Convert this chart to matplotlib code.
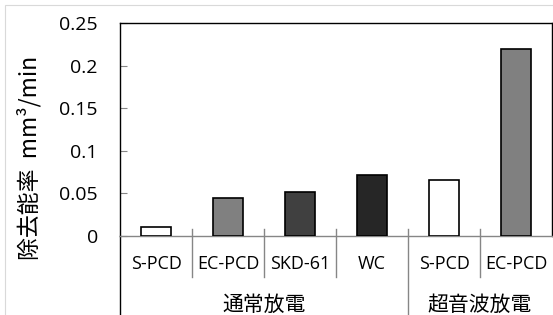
import matplotlib
matplotlib.use("Agg")
import matplotlib.pyplot as plt
from matplotlib.patches import Rectangle
import matplotlib.transforms as mtransforms

categories = ["S-PCD", "EC-PCD", "SKD-61", "WC", "S-PCD", "EC-PCD"]
values = [0.011, 0.045, 0.052, 0.072, 0.066, 0.220]
colors = ["#ffffff", "#808080", "#404040", "#262626", "#ffffff", "#808080"]
groups = ["通常放電", "超音波放電"]
group_sizes = [4, 2]
yticks = [0, 0.05, 0.1, 0.15, 0.2, 0.25]
yticklabels = ["0", "0.05", "0.1", "0.15", "0.2", "0.25"]
ylabel = "除去能率  mm³/min"

W, H = 553, 315
fig = plt.figure(figsize=(W / 100, H / 100), dpi=100)

# outer chart border (light gray)
fig.patches.append(Rectangle((5 / W, -0.1), 1.2, (H - 5) / H + 0.1, transform=fig.transFigure,
                             fill=False, edgecolor="#d9d9d9", linewidth=0.8))

left, right, top, zero = 120, 552, 23, 236
ax = fig.add_axes([left / W, (H - zero) / H, (right - left) / W, (zero - top) / H])
x = list(range(len(categories)))
ax.bar(x, values, width=0.41, color=colors, edgecolor="black", linewidth=1.2, zorder=3)
ax.set_xlim(-0.5, len(categories) - 0.5)
ax.set_ylim(0, 0.25)
ax.set_yticks(yticks)
ax.set_yticklabels(yticklabels, fontfamily="Open Sans", fontsize=14)
ax.tick_params(axis="y", direction="in", length=5, width=0.8, color="#868686", pad=16)
ax.set_xticks([])
for s in ["left", "top", "right"]:
    ax.spines[s].set_color("black")
    ax.spines[s].set_linewidth(1.0)
ax.spines["bottom"].set_color("#868686")
ax.spines["bottom"].set_linewidth(1.0)

tr = mtransforms.blended_transform_factory(ax.transData, ax.transAxes)
hpx = zero - top
up = (zero - 229) / hpx
short_bot = (zero - 277) / hpx
fig_bot = -(H - zero) / hpx - 0.05

# left axis extension
ax.plot([-0.5, -0.5], [0, fig_bot], transform=tr, color="black", lw=1.0, clip_on=False)

# separators
boundaries = []
acc = 0
for gs in group_sizes[:-1]:
    acc += gs
    boundaries.append(acc - 0.5)
for i in range(1, len(categories)):
    b = i - 0.5
    bot = fig_bot if b in boundaries else short_bot
    ax.plot([b, b], [up, bot], transform=tr, color="#868686", lw=1.0, clip_on=False)

# category labels
cat_y = (zero - 264) / hpx
for xi, c in zip(x, categories):
    ax.text(xi, cat_y, c, transform=tr, ha="center", va="center",
            fontfamily="Open Sans", fontsize=13)

# group labels
grp_y = (zero - 304.5) / hpx
start = 0
for g, gs in zip(groups, group_sizes):
    center = start + (gs - 1) / 2
    ax.text(center, grp_y, g, transform=tr, ha="center", va="center",
            family=["Noto Sans CJK JP", "DejaVu Sans"], fontsize=15)
    start += gs

fig.text(29 / W, (H - 157.5) / H, ylabel, rotation=90, ha="center", va="center",
         family=["Noto Sans CJK JP", "DejaVu Sans"], fontsize=16.5)

fig.savefig("out.png", dpi=100)
